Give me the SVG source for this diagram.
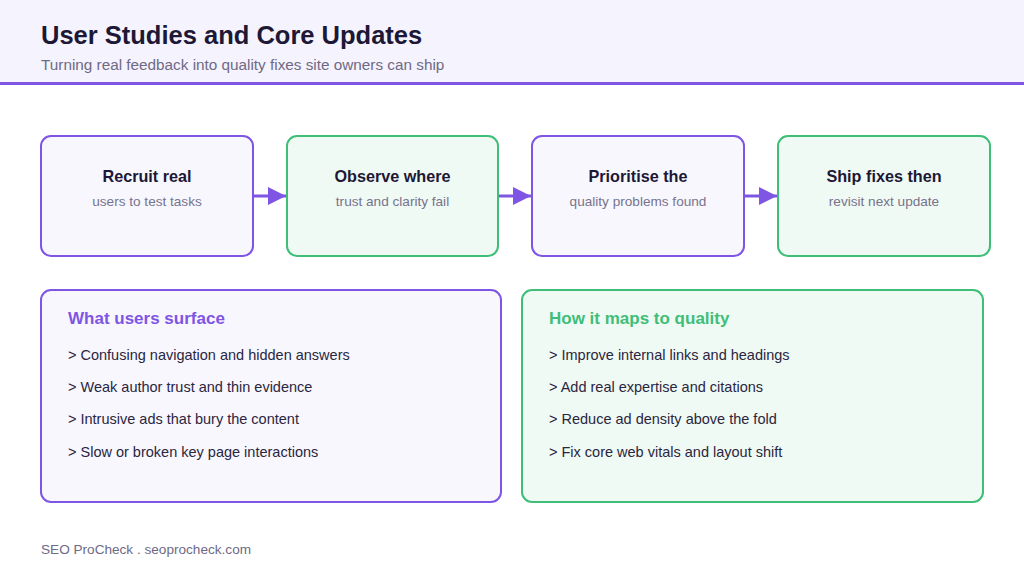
<svg xmlns="http://www.w3.org/2000/svg" width="1024" height="576" viewBox="0 0 1024 576">
<defs>
<style>
text{font-family:"Liberation Sans",Arial,sans-serif}
.title{font-size:25.5px;font-weight:bold;fill:#1c1836}
.sub{font-size:15.3px;fill:#6e6a85}
.np{fill:#f8f7fe;stroke:#7f55e3;stroke-width:2}
.ng{fill:#f0faf4;stroke:#3fbe78;stroke-width:2}
.nt{font-size:16.2px;font-weight:bold;fill:#1c1836;text-anchor:middle}
.ns{font-size:13.6px;fill:#77738c;text-anchor:middle}
.ph{font-size:17px;font-weight:bold}
.li{font-size:14.5px;fill:#2a2640}
.foot{font-size:13.6px;fill:#6e6a85}
.conn{stroke:#7f55e3;stroke-width:3;fill:none}
</style>
<marker id="ah" viewBox="0 0 10 10" refX="10" refY="5" markerWidth="6" markerHeight="6" markerUnits="strokeWidth" orient="auto">
<path d="M0,0 L10,5 L0,10 z" fill="#7f55e3"/>
</marker>
</defs>
<rect width="1024" height="576" fill="#ffffff"/>
<g id="header">
<rect x="0" y="0" width="1024" height="83" fill="#f5f3fd"/>
<rect x="0" y="82" width="1024" height="3" fill="#7f55e3"/>
<text class="title" x="41" y="44">User Studies and Core Updates</text>
<text class="sub" x="41" y="70">Turning real feedback into quality fixes site owners can ship</text>
</g>
<g id="connectors">
<line class="conn" x1="254" y1="196" x2="286" y2="196" marker-end="url(#ah)"/>
<line class="conn" x1="499" y1="196" x2="531" y2="196" marker-end="url(#ah)"/>
<line class="conn" x1="745" y1="196" x2="777" y2="196" marker-end="url(#ah)"/>
</g>
<g id="step1">
<rect class="np" x="41" y="136" width="212" height="120" rx="10"/>
<text class="nt" x="147" y="182">Recruit real</text>
<text class="ns" x="147" y="206">users to test tasks</text>
</g>
<g id="step2">
<rect class="ng" x="287" y="136" width="211" height="120" rx="10"/>
<text class="nt" x="392.5" y="182">Observe where</text>
<text class="ns" x="392.5" y="206">trust and clarity fail</text>
</g>
<g id="step3">
<rect class="np" x="532" y="136" width="212" height="120" rx="10"/>
<text class="nt" x="638" y="182">Prioritise the</text>
<text class="ns" x="638" y="206">quality problems found</text>
</g>
<g id="step4">
<rect class="ng" x="778" y="136" width="212" height="120" rx="10"/>
<text class="nt" x="884" y="182">Ship fixes then</text>
<text class="ns" x="884" y="206">revisit next update</text>
</g>
<g id="panel-users">
<rect class="np" x="41" y="290" width="460" height="212" rx="10"/>
<text class="ph" x="68" y="324" fill="#7f55e3">What users surface</text>
<text class="li" x="68" y="360">&gt; Confusing navigation and hidden answers</text>
<text class="li" x="68" y="392">&gt; Weak author trust and thin evidence</text>
<text class="li" x="68" y="424">&gt; Intrusive ads that bury the content</text>
<text class="li" x="68" y="457">&gt; Slow or broken key page interactions</text>
</g>
<g id="panel-quality">
<rect class="ng" x="522" y="290" width="461" height="212" rx="10"/>
<text class="ph" x="549" y="324" fill="#3fbe78">How it maps to quality</text>
<text class="li" x="549" y="360">&gt; Improve internal links and headings</text>
<text class="li" x="549" y="392">&gt; Add real expertise and citations</text>
<text class="li" x="549" y="424">&gt; Reduce ad density above the fold</text>
<text class="li" x="549" y="457">&gt; Fix core web vitals and layout shift</text>
</g>
<g id="footer">
<text class="foot" x="41" y="554">SEO ProCheck . seoprocheck.com</text>
</g>
</svg>
